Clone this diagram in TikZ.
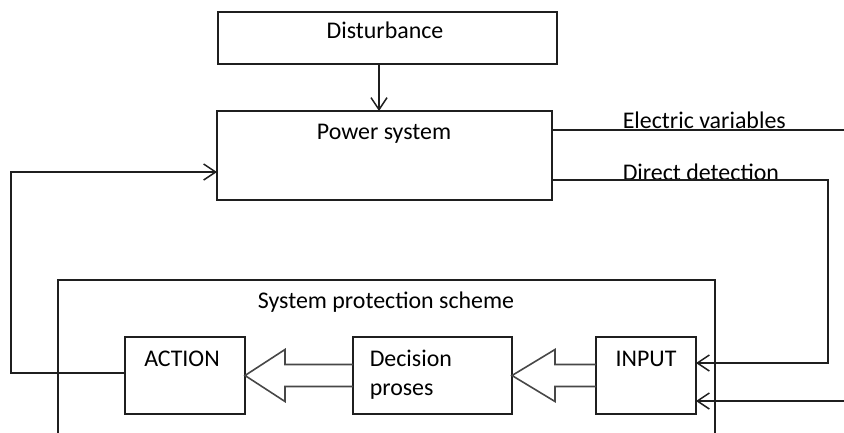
\documentclass[tikz,border=0pt]{standalone}
\usepackage{fontspec}
\setmainfont{Carlito}
\usetikzlibrary{arrows.meta,calc}
\begin{document}
\begin{tikzpicture}[x=1bp,y=-1bp,line width=1.5bp,
  line/.style={draw=black!88},
  box/.style={draw=black!88,rectangle,inner sep=0pt,outer sep=0pt},
  lbl/.style={inner sep=0pt,font=\fontsize{24}{28}\selectfont,text=black},
  arr/.style={line,-{Straight Barb[length=12bp,width=16bp]}},
  blk/.style={draw=black!72,line width=1.6bp,line join=miter}]
\useasboundingbox (0,0) rectangle (844,432);

% blocks
\node[box,minimum width=339bp,minimum height=52bp] (dist) at (387.5,38) {};
\node[box,minimum width=335bp,minimum height=89bp] (pow) at (384.5,155.5) {};
\node[box,minimum width=120bp,minimum height=77bp] (act) at (185,375.5) {};
\node[box,minimum width=159bp,minimum height=77bp] (dec) at (432.5,375.5) {};
\node[box,minimum width=100bp,minimum height=77bp] (inp) at (646,375.5) {};

% protection scheme frame (runs past the lower edge)
\draw[line] (58,445) -- (58,280) -- (715,280) -- (715,445);

% texts
\node[lbl,anchor=base] (tdist) at (385,38) {Disturbance};
\node[lbl,anchor=base] (tpow) at (384,139) {Power system};
\node[lbl,anchor=base west] (tev) at (622,128) {Electric variables};
\node[lbl,anchor=base west] (tdd) at (622,180) {Direct detection};
\node[lbl,anchor=base] (tsps) at (386,308) {System protection scheme};
\node[lbl,anchor=base] (tact) at (182,366) {ACTION};
\node[lbl,anchor=base west] (tdec1) at (369,366) {Decision};
\node[lbl,anchor=base west] (tdec2) at (369,395) {proses};
\node[lbl,anchor=base] (tinp) at (646,366) {INPUT};

% free ends and corners
\coordinate (evEnd) at (844,130);
\coordinate (ddCorner) at (828,180);
\coordinate (in2) at (844,401);
\coordinate (fb) at (11,172);

% connectors
\draw[arr] ($(dist.south)+(-8.5,0)$) -- ($(pow.north)+(-5.5,0)$);
\draw[line] (pow.east |- evEnd) -- (evEnd);
\draw[arr] (pow.east |- ddCorner) -- (ddCorner) -- (ddCorner |- 0,363) -- (inp.east |- 0,363);
\draw[arr] (in2) -- (inp.east |- in2);
\draw[arr] (act.west |- 0,373) -- (fb |- 0,373) -- (fb) -- (pow.west |- fb);

% hollow block arrows between stages
\draw[blk] ($(dec.west)+(0,-11)$) -- ($(act.east)+(40,-11)$) -- ($(act.east)+(40,-26)$)
  -- (act.east) -- ($(act.east)+(40,26)$) -- ($(act.east)+(40,11)$) -- ($(dec.west)+(0,11)$);
\draw[blk] ($(inp.west)+(0,-11)$) -- ($(dec.east)+(43,-11)$) -- ($(dec.east)+(43,-26)$)
  -- (dec.east) -- ($(dec.east)+(43,26)$) -- ($(dec.east)+(43,11)$) -- ($(inp.west)+(0,11)$);
\end{tikzpicture}
\end{document}
